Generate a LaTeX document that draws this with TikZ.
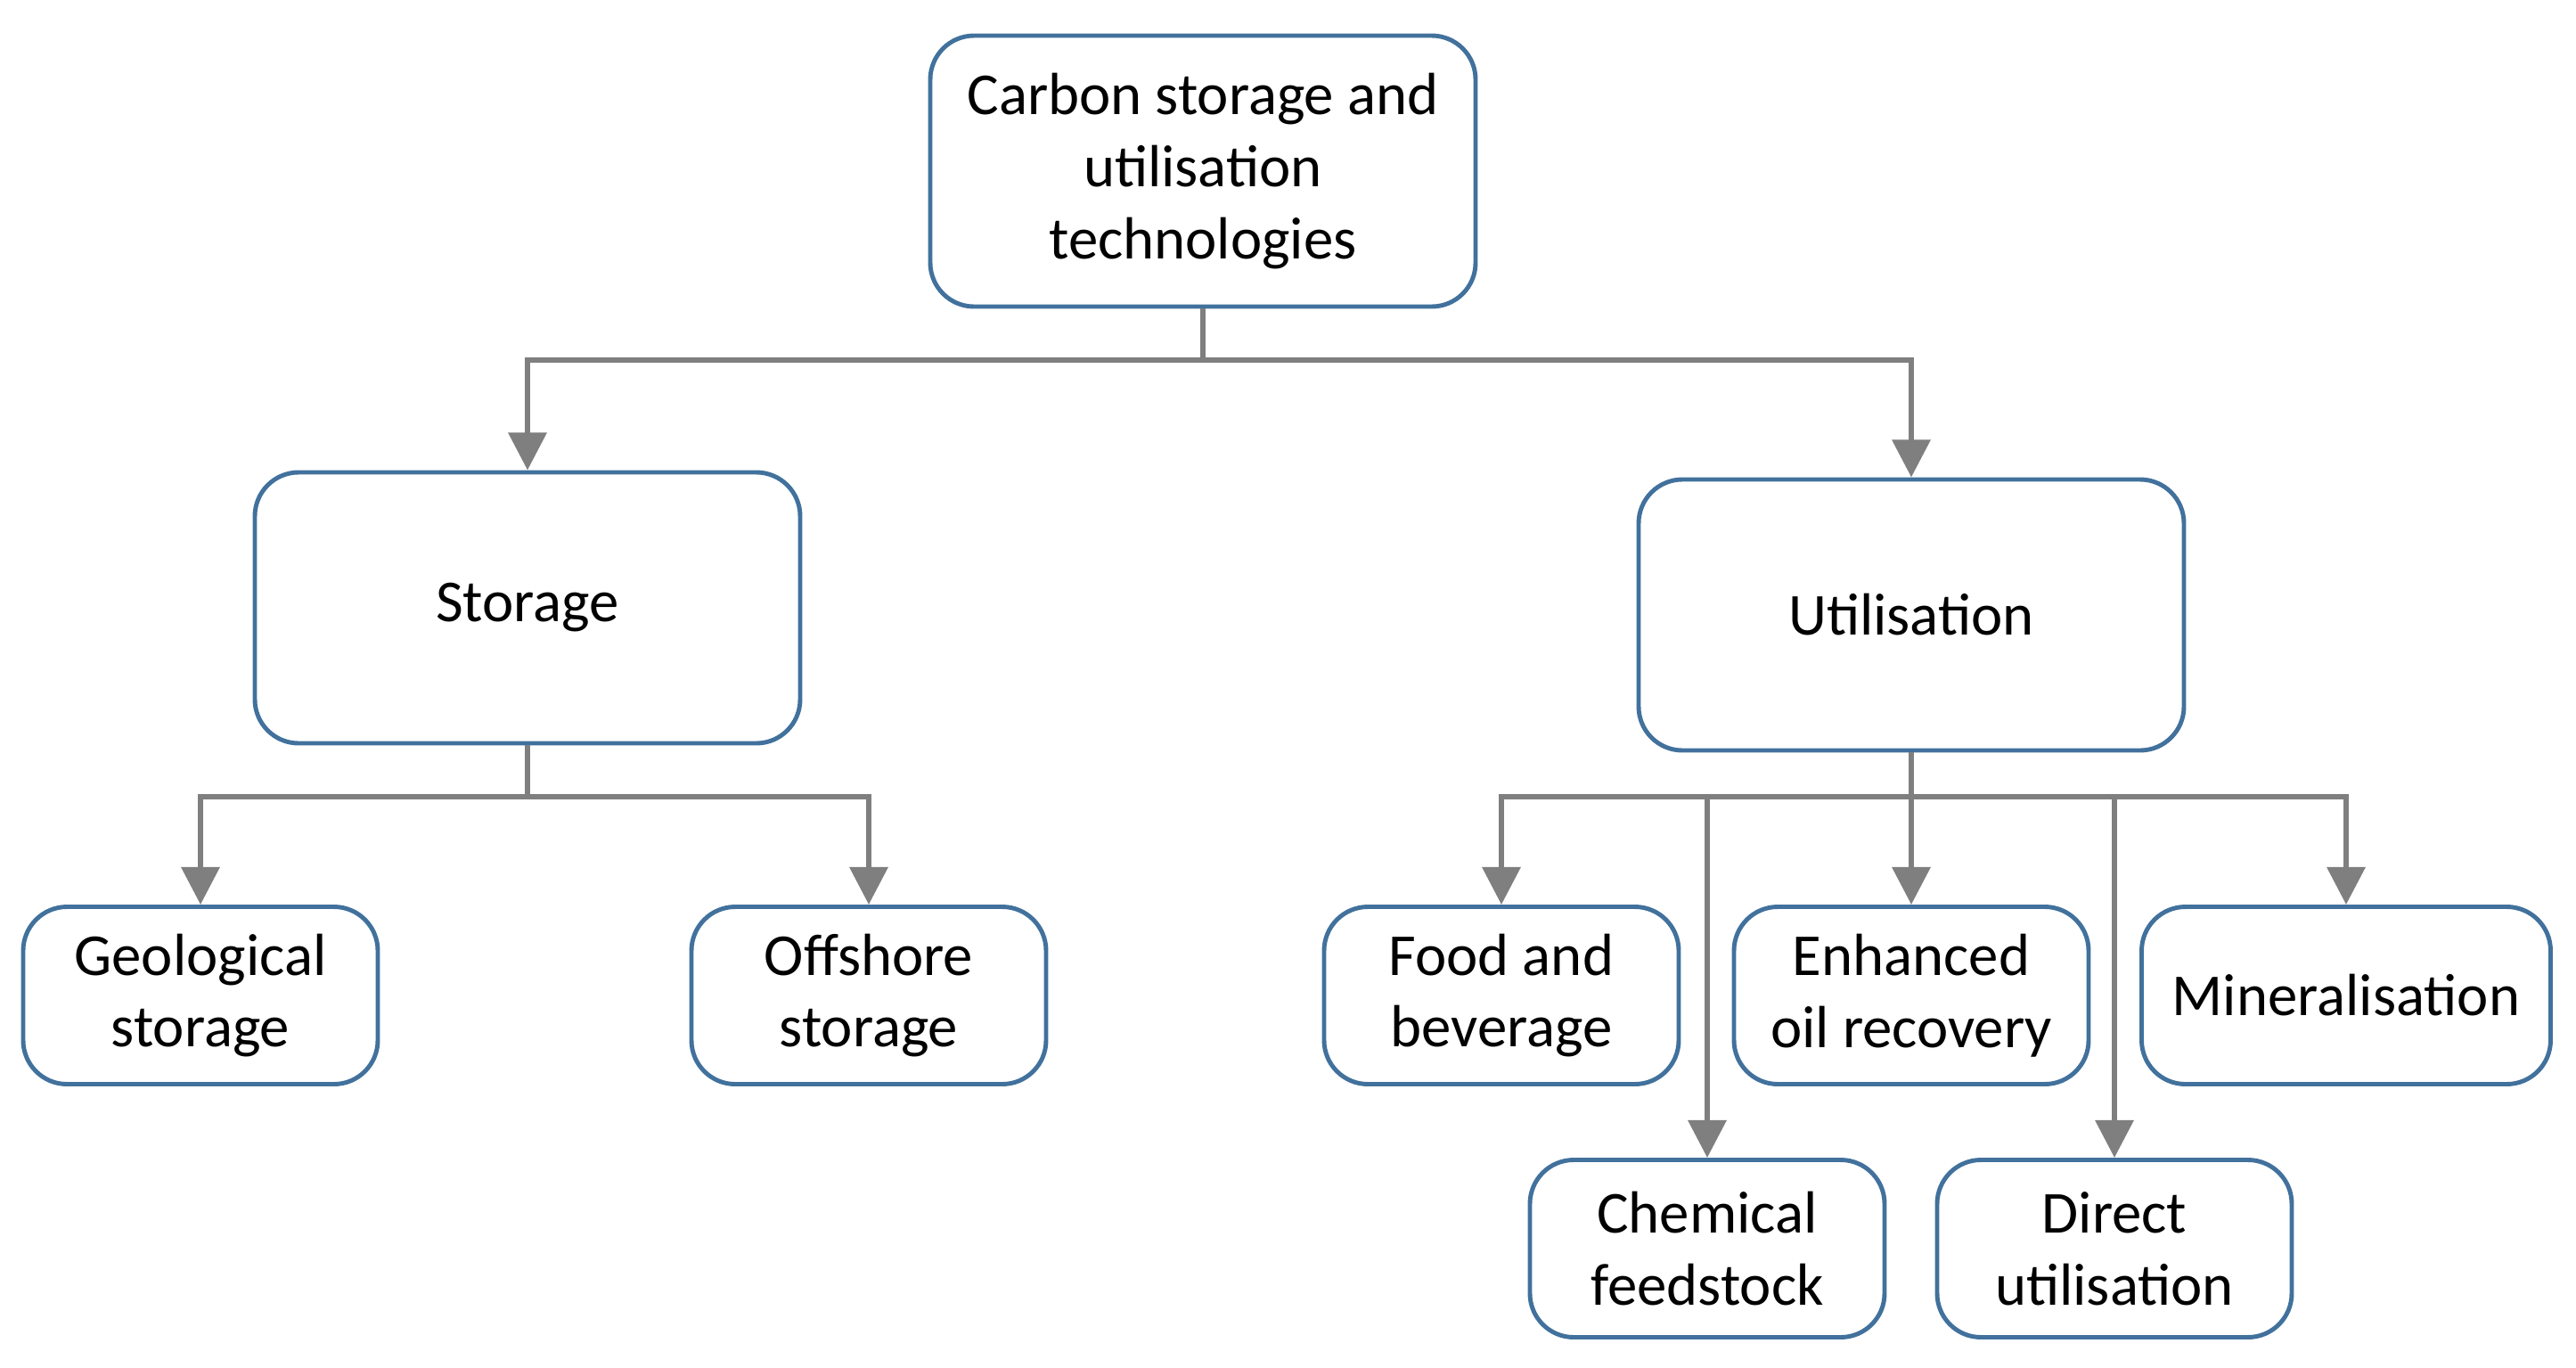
\documentclass[tikz,border=0pt]{standalone}
\usepackage{fontspec}
\setmainfont{Carlito}
\usetikzlibrary{arrows.meta}
\definecolor{boxblue}{HTML}{41719C}
\definecolor{linkgray}{HTML}{7F7F7F}
\tikzset{
  box/.style={draw=boxblue, line width=1.4pt, rounded corners=14pt, align=center,
    font=\fontsize{19}{23}\selectfont, inner sep=0pt},
  link/.style={draw=linkgray, line width=1.8pt},
  arr/.style={link, -{Triangle[length=12pt, width=12pt]}}
}
\begin{document}
\begin{tikzpicture}
  \useasboundingbox (0,0) rectangle (28.91,-15.35);

  % Top level
  \node[box, minimum width=6.12cm, minimum height=3.04cm] (root) at (13.50,-1.92)
    {Carbon storage and\\utilisation\\technologies};

  % Second level
  \node[box, minimum width=6.12cm, minimum height=3.04cm] (stor) at (5.92,-6.82) {Storage};
  \node[box, minimum width=6.12cm, minimum height=3.04cm] (util) at (21.45,-6.90) {Utilisation};

  % Storage options
  \node[box, minimum width=3.98cm, minimum height=1.99cm] (geo) at (2.25,-11.17) {Geological\\storage};
  \node[box, minimum width=3.98cm, minimum height=1.99cm] (off) at (9.75,-11.17) {Offshore\\storage};

  % Utilisation options
  \node[box, minimum width=3.98cm, minimum height=1.99cm] (food) at (16.85,-11.17) {Food and\\beverage};
  \node[box, minimum width=3.98cm, minimum height=1.99cm] (eor) at (21.45,-11.17) {Enhanced\\oil recovery};
  \node[box, minimum width=4.59cm, minimum height=1.99cm] (mineral) at (26.33,-11.17) {Mineralisation};
  \node[box, minimum width=3.98cm, minimum height=1.99cm] (chem) at (19.16,-14.01) {Chemical\\feedstock};
  \node[box, minimum width=3.98cm, minimum height=1.99cm] (direct) at (23.73,-14.01) {Direct\\utilisation};

  % Junctions
  \coordinate (jroot) at (13.50,-4.04);
  \coordinate (jstor) at (5.92,-8.94);
  \coordinate (jutil) at (21.45,-8.94);

  % Connectors
  \draw[link] (root.south) -- (jroot);
  \draw[arr] (jroot) -| (stor.north);
  \draw[arr] (jroot) -| (util.north);

  \draw[link] (stor.south) -- (jstor);
  \draw[arr] (jstor) -| (geo.north);
  \draw[arr] (jstor) -| (off.north);

  \draw[link] (util.south) -- (jutil);
  \draw[arr] (jutil) -| (food.north);
  \draw[arr] (jutil) -- (eor.north);
  \draw[arr] (jutil) -| (mineral.north);
  \draw[arr] (chem.north |- jutil) -- (chem.north);
  \draw[arr] (direct.north |- jutil) -- (direct.north);
\end{tikzpicture}
\end{document}
